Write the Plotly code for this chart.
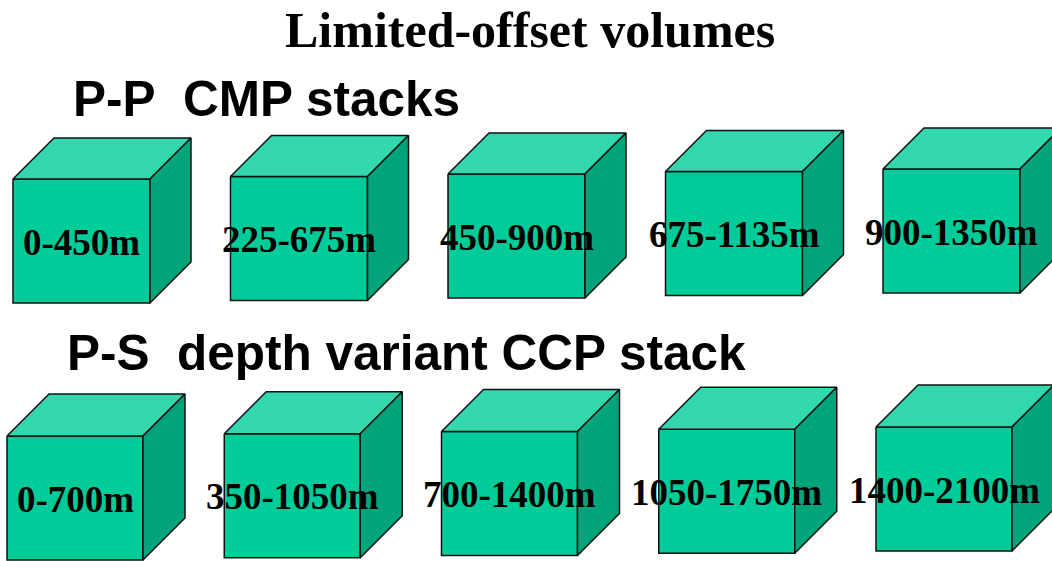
import plotly.graph_objects as go

# ---- data ----
title_text = "Limited-offset volumes"
pp_header = "P-P\u00a0\u00a0CMP stacks"
ps_header = "P-S\u00a0\u00a0depth variant CCP stack"
pp_start = [0, 225, 450, 675, 900]
pp_end = [450, 675, 900, 1135, 1350]
ps_start = [0, 350, 700, 1050, 1400]
ps_end = [700, 1050, 1400, 1750, 2100]

# ---- styles ----
FRONT = "#00CC99"
TOP = "#33D7AD"
SIDE = "#00A47B"
EDGE = "#111111"

fig = go.Figure()


def add_cube(x0, ytop, w, h, d, label):
    x1 = x0 + w
    ybot = ytop + h
    faces = [
        ([x0, x1, x1, x0, x0], [ytop, ytop, ybot, ybot, ytop], FRONT),
        ([x0, x0 + d, x1 + d, x1, x0], [ytop, ytop - d, ytop - d, ytop, ytop], TOP),
        ([x1, x1 + d, x1 + d, x1, x1], [ytop, ytop - d, ybot - d, ybot, ytop], SIDE),
    ]
    for xs, ys, c in faces:
        fig.add_trace(go.Scatter(x=xs, y=ys, mode="lines", fill="toself",
                                 fillcolor=c, line=dict(color=EDGE, width=1.5),
                                 hoverinfo="skip", showlegend=False))
    fig.add_annotation(x=x0 + w / 2, y=ytop + h / 2 + 1, text="<b>" + label + "</b>",
                       showarrow=False, xanchor="center", yanchor="middle",
                       font=dict(family="Liberation Serif, Times New Roman, serif",
                                 size=37, color="black"))


for i, (s, e) in enumerate(zip(pp_start, pp_end)):
    add_cube(13 + 217.5 * i, 179 - 2.5 * i, 137, 124, 41, f"{s}-{e}m")

for i, (s, e) in enumerate(zip(ps_start, ps_end)):
    add_cube(7 + 217.25 * i, 436 - 2.25 * i, 136, 124, 42, f"{s}-{e}m")

fig.add_annotation(x=530, y=30, text="<b>" + title_text + "</b>", showarrow=False,
                   xanchor="center", yanchor="middle",
                   font=dict(family="Liberation Serif, Times New Roman, serif",
                             size=50, color="black"))
fig.add_annotation(x=71, y=98, text="<b>" + pp_header + "</b>", showarrow=False,
                   xanchor="left", yanchor="middle",
                   font=dict(family="Liberation Sans, Arial, sans-serif",
                             size=49.5, color="black"))
fig.add_annotation(x=65, y=352, text="<b>" + ps_header + "</b>", showarrow=False,
                   xanchor="left", yanchor="middle",
                   font=dict(family="Liberation Sans, Arial, sans-serif",
                             size=49.5, color="black"))

fig.update_layout(
    width=1052, height=561,
    margin=dict(l=0, r=0, t=0, b=0),
    paper_bgcolor="white", plot_bgcolor="white",
    xaxis=dict(range=[0, 1052], visible=False, fixedrange=True),
    yaxis=dict(range=[561, 0], visible=False, fixedrange=True),
    showlegend=False,
)

fig.write_html("out.html", config={"displayModeBar": False},
               post_script="document.body.style.margin='0';document.body.style.overflow='hidden';")
